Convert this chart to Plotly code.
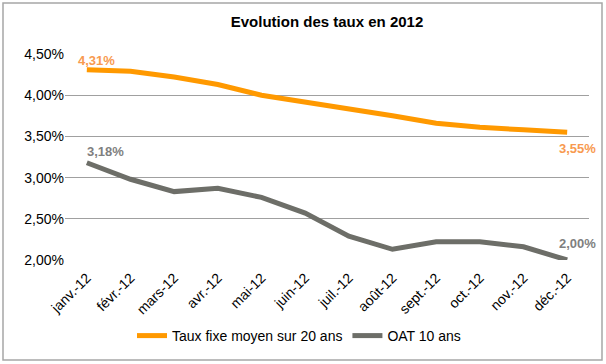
import plotly.graph_objects as go

months = ["janv.-12", "févr.-12", "mars-12", "avr.-12", "mai-12", "juin-12",
          "juil.-12", "août-12", "sept.-12", "oct.-12", "nov.-12", "déc.-12"]
taux_fixe = [4.31, 4.29, 4.22, 4.13, 4.00, 3.92, 3.83, 3.75, 3.66, 3.61, 3.58, 3.55]
oat = [3.18, 2.98, 2.83, 2.87, 2.76, 2.57, 2.29, 2.13, 2.22, 2.22, 2.16, 2.00]
yticks = [2.0, 2.5, 3.0, 3.5, 4.0, 4.5]

ORANGE = "#FF9900"
ORANGE_LBL = "#F89A50"
GRAY = "#6D6E68"
GRAY_LBL = "#7F7F7F"

fig = go.Figure()
fig.add_trace(go.Scatter(x=months, y=taux_fixe, mode="lines", name="Taux fixe moyen sur 20 ans",
                         line=dict(color=ORANGE, width=5)))
fig.add_trace(go.Scatter(x=months, y=oat, mode="lines", name="OAT 10 ans",
                         line=dict(color=GRAY, width=5)))

def fmt(v):
    return f"{v:.2f}".replace(".", ",") + "%"

LF = "Liberation Sans, Arial, sans-serif"
fig.add_annotation(x=months[0], y=taux_fixe[0], text="<b>" + fmt(taux_fixe[0]) + "</b>", showarrow=False,
                   xshift=10, yshift=9, font=dict(color=ORANGE_LBL, size=13, family=LF))
fig.add_annotation(x=months[0], y=oat[0], text="<b>" + fmt(oat[0]) + "</b>", showarrow=False,
                   xshift=19, yshift=11, font=dict(color=GRAY_LBL, size=13, family=LF))
fig.add_annotation(x=months[-1], y=taux_fixe[-1], text="<b>" + fmt(taux_fixe[-1]) + "</b>", showarrow=False,
                   xshift=10, yshift=-16, font=dict(color=ORANGE_LBL, size=13, family=LF))
fig.add_annotation(x=months[-1], y=oat[-1], text="<b>" + fmt(oat[-1]) + "</b>", showarrow=False,
                   xshift=10, yshift=17, font=dict(color=GRAY_LBL, size=13, family=LF))

# outer border
L, R, T, B = 65, 17, 54, 104
W, H = 606, 364
pw, ph = W - L - R, H - T - B
fig.add_shape(type="rect", xref="paper", yref="paper",
              x0=(3 - L) / pw, x1=(602 - L) / pw,
              y0=(H - B - 360) / ph, y1=(H - B - 3) / ph,
              line=dict(color="#A6A6A6", width=1.5), fillcolor="rgba(0,0,0,0)", layer="below")

fig.update_layout(
    width=W, height=H,
    margin=dict(l=L, r=R, t=T, b=B, autoexpand=False),
    paper_bgcolor="white", plot_bgcolor="white",
    font=dict(family=LF, size=14, color="black"),
    title=dict(text="<b>Evolution des taux en 2012</b>", x=0.5, xref="paper", xanchor="center",
               y=1 - 22 / H, yanchor="middle", font=dict(size=15, color="black")),
    showlegend=True,
    legend=dict(orientation="h", x=0.5 - 28 / pw, xanchor="center", y=(H - B - 336) / ph, yanchor="middle",
                font=dict(size=14), itemwidth=30, tracegroupgap=0),
)
fig.update_xaxes(showgrid=False, tickangle=-45, ticks="", showline=False, automargin=False,
                 tickfont=dict(size=14), range=[-0.5, 11.5], ticklabelstandoff=6)
fig.update_yaxes(range=[2.0, 4.5], tickvals=yticks, ticktext=[fmt(v) for v in yticks], automargin=False,
                 showgrid=True, gridcolor="#A0A0A0", gridwidth=1, zeroline=False,
                 showline=False, ticks="", tickfont=dict(size=14))

fig.write_html("out.html", config={"displayModeBar": False},
               post_script="document.body.style.margin='0';document.body.style.overflow='hidden';")
